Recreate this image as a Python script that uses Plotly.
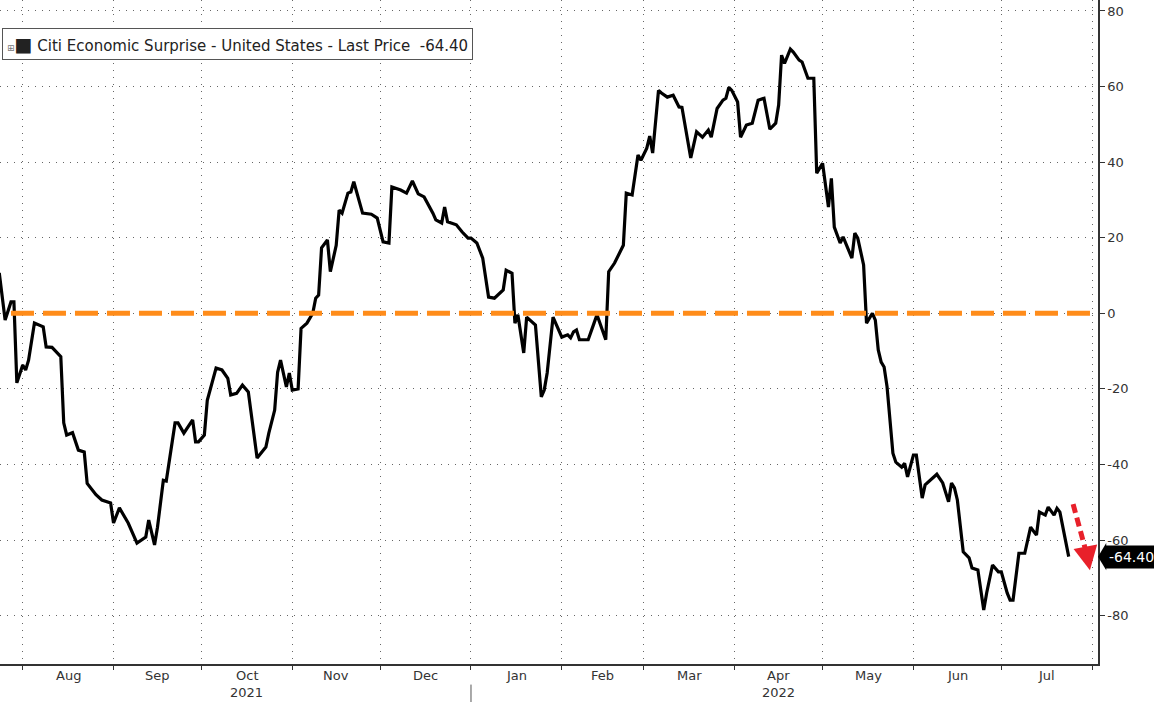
import pandas as pd
import plotly.graph_objects as go

# ---- data ----
dates = [
    "2021-07-24", "2021-07-26", "2021-07-28", "2021-07-29", "2021-07-30",
    "2021-08-01", "2021-08-02", "2021-08-03", "2021-08-05", "2021-08-08",
    "2021-08-09", "2021-08-11", "2021-08-14", "2021-08-15", "2021-08-16",
    "2021-08-18", "2021-08-20", "2021-08-22", "2021-08-23", "2021-08-26",
    "2021-08-28", "2021-08-31", "2021-09-01", "2021-09-03", "2021-09-06",
    "2021-09-09", "2021-09-12", "2021-09-13", "2021-09-15", "2021-09-16",
    "2021-09-18", "2021-09-19", "2021-09-22", "2021-09-23", "2021-09-25",
    "2021-09-28", "2021-09-29", "2021-09-30", "2021-10-02", "2021-10-03",
    "2021-10-06", "2021-10-08", "2021-10-10", "2021-10-11", "2021-10-13",
    "2021-10-15", "2021-10-17", "2021-10-19", "2021-10-20", "2021-10-23",
    "2021-10-24", "2021-10-26", "2021-10-27", "2021-10-28", "2021-10-30",
    "2021-10-31", "2021-11-01", "2021-11-03", "2021-11-04", "2021-11-06",
    "2021-11-08", "2021-11-09", "2021-11-10", "2021-11-11", "2021-11-13",
    "2021-11-14", "2021-11-16", "2021-11-17", "2021-11-18", "2021-11-20",
    "2021-11-21", "2021-11-22", "2021-11-25", "2021-11-28", "2021-11-30",
    "2021-12-02", "2021-12-04", "2021-12-05", "2021-12-08", "2021-12-10",
    "2021-12-12", "2021-12-14", "2021-12-16", "2021-12-19", "2021-12-20",
    "2021-12-22", "2021-12-23", "2021-12-24", "2021-12-27", "2021-12-29",
    "2021-12-31", "2022-01-01", "2022-01-03", "2022-01-05", "2022-01-07",
    "2022-01-09", "2022-01-11", "2022-01-12", "2022-01-13", "2022-01-15",
    "2022-01-16", "2022-01-17", "2022-01-19", "2022-01-20", "2022-01-23",
    "2022-01-25", "2022-01-26", "2022-01-27", "2022-01-29", "2022-01-31",
    "2022-02-01", "2022-02-03", "2022-02-04", "2022-02-05", "2022-02-06",
    "2022-02-07", "2022-02-10", "2022-02-12", "2022-02-13", "2022-02-16",
    "2022-02-17", "2022-02-19", "2022-02-22", "2022-02-23", "2022-02-25",
    "2022-02-27", "2022-02-28", "2022-03-02", "2022-03-03", "2022-03-04",
    "2022-03-06", "2022-03-07", "2022-03-09", "2022-03-11", "2022-03-13",
    "2022-03-14", "2022-03-16", "2022-03-17", "2022-03-19", "2022-03-21",
    "2022-03-23", "2022-03-24", "2022-03-26", "2022-03-28", "2022-03-29",
    "2022-03-30", "2022-03-31", "2022-04-02", "2022-04-03", "2022-04-05",
    "2022-04-07", "2022-04-09", "2022-04-11", "2022-04-13", "2022-04-15",
    "2022-04-16", "2022-04-17", "2022-04-18", "2022-04-20", "2022-04-21",
    "2022-04-23", "2022-04-24", "2022-04-26", "2022-04-28", "2022-04-29",
    "2022-05-01", "2022-05-03", "2022-05-04", "2022-05-05", "2022-05-07",
    "2022-05-08", "2022-05-11", "2022-05-12", "2022-05-13", "2022-05-15",
    "2022-05-16", "2022-05-18", "2022-05-19", "2022-05-20", "2022-05-21",
    "2022-05-22", "2022-05-23", "2022-05-25", "2022-05-26", "2022-05-28",
    "2022-05-29", "2022-05-30", "2022-06-01", "2022-06-02", "2022-06-04",
    "2022-06-05", "2022-06-07", "2022-06-09", "2022-06-11", "2022-06-13",
    "2022-06-14", "2022-06-15", "2022-06-16", "2022-06-18", "2022-06-20",
    "2022-06-21", "2022-06-23", "2022-06-25", "2022-06-26", "2022-06-28",
    "2022-06-30", "2022-07-01", "2022-07-03", "2022-07-04", "2022-07-05",
    "2022-07-07", "2022-07-09", "2022-07-11", "2022-07-13", "2022-07-14",
    "2022-07-16", "2022-07-17", "2022-07-19", "2022-07-20", "2022-07-21",
    "2022-07-24",
]
values = [
    10.7, -1.8, 3.0, 3.0, -18.4,
    -13.7, -15.0, -12.4, -2.6, -3.6,
    -8.9, -9.0, -11.5, -29.0, -32.2,
    -31.6, -36.2, -36.7, -45.0, -48.0,
    -49.4, -50.2, -55.5, -51.5, -55.5,
    -60.8, -59.2, -54.7, -61.3, -56.6,
    -44.2, -44.4, -29.0, -29.0, -31.7,
    -28.2, -34.0, -34.0, -32.2, -23.0,
    -14.5, -15.0, -17.2, -21.6, -21.2,
    -19.0, -20.8, -32.7, -38.3, -35.4,
    -31.7, -25.6, -15.6, -12.4, -19.5,
    -15.8, -20.3, -20.0, -4.0, -2.6,
    0.0, 4.0, 4.8, 17.3, 19.4,
    11.0, 18.0, 27.3, 26.5, 31.8,
    32.1, 34.8, 26.5, 26.2, 25.2,
    18.9, 18.6, 33.4, 32.6, 31.8,
    35.0, 31.6, 30.8, 26.5, 24.7,
    23.9, 28.1, 24.2, 23.4, 21.5,
    19.9, 19.9, 18.6, 14.6, 4.3,
    4.0, 5.6, 6.2, 11.4, 10.6,
    -2.6, -0.4, -10.5, -1.0, -3.1,
    -22.1, -20.3, -15.8, -1.0, -4.5,
    -6.3, -5.7, -6.5, -4.9, -4.4,
    -7.0, -7.0, -2.6, -0.4, -7.0,
    11.0, 13.3, 18.0, 31.8, 31.3,
    41.9, 40.5, 43.7, 46.9, 42.4,
    59.0, 58.3, 57.2, 57.7, 54.6,
    54.5, 45.8, 41.1, 48.0, 46.6,
    48.5, 46.6, 54.2, 56.4, 56.9,
    59.8, 59.0, 55.9, 46.6, 49.8,
    50.3, 56.4, 56.9, 48.7, 50.3,
    55.1, 68.3, 66.1, 69.9, 69.1,
    67.0, 66.5, 62.2, 62.2, 37.1,
    39.7, 28.1, 35.7, 22.8, 18.6,
    20.2, 14.6, 21.2, 19.9, 12.8,
    -2.6, 0.0, -1.8, -9.7, -12.9,
    -14.2, -19.4, -37.0, -39.4, -40.7,
    -39.7, -43.3, -37.5, -37.5, -48.9,
    -45.4, -43.9, -42.6, -44.9, -49.9,
    -44.9, -46.2, -49.4, -63.1, -64.7,
    -67.4, -67.9, -78.5, -74.0, -66.6,
    -68.4, -68.4, -74.0, -75.9, -75.9,
    -63.5, -63.5, -56.6, -58.7, -52.6,
    -53.4, -51.3, -53.4, -51.6, -52.6,
    -64.4,
]
last_price = -64.40
series_name = "Citi Economic Surprise - United States - Last Price"

month_labels = ["Aug", "Sep", "Oct", "Nov", "Dec", "Jan", "Feb", "Mar",
                "Apr", "May", "Jun", "Jul"]
month_starts = ["2021-08-01", "2021-09-01", "2021-10-01", "2021-11-01",
                "2021-12-01", "2022-01-01", "2022-02-01", "2022-03-01",
                "2022-04-01", "2022-05-01", "2022-06-01", "2022-07-01",
                "2022-08-01"]
year_labels = ["2021", "2022"]
year_label_months = ["Oct", "Apr"]
y_ticks = [-80, -60, -40, -20, 0, 20, 40, 60, 80]

FONT = "DejaVu Sans"
TXT = "#333333"

fig = go.Figure()
fig.add_trace(go.Scatter(
    x=pd.to_datetime(dates), y=values, mode="lines",
    line=dict(color="black", width=3.2), name=series_name,
    showlegend=False, hoverinfo="skip",
))

# zero reference line (orange dashed)
fig.add_shape(type="line", xref="paper", yref="y", x0=0.01, x1=1.0, y0=0, y1=0,
              line=dict(color="#FF8C1A", width=5, dash="23px,9px"), layer="above")

starts = pd.to_datetime(month_starts)
mids = [starts[i] + (starts[i + 1] - starts[i]) / 2 for i in range(len(month_labels))]

annotations = []
for lab, m in zip(month_labels, mids):
    annotations.append(dict(x=m, y=-0.003, xref="x", yref="paper", text=lab,
                            showarrow=False, yanchor="top",
                            font=dict(family=FONT, size=13, color=TXT)))
for ylab, mon in zip(year_labels, year_label_months):
    idx = month_labels.index(mon)
    annotations.append(dict(x=mids[idx], y=-0.029, xref="x", yref="paper", text=ylab,
                            showarrow=False, yanchor="top",
                            font=dict(family=FONT, size=13, color=TXT)))

# legend box
annotations.append(dict(
    x=0.002, y=0.958, xref="paper", yref="paper", xanchor="left", yanchor="top",
    text="<span style='font-size:9px;color:#777'>⊞</span><span style='font-size:19px'>■</span> "
         + series_name + "  " + f"{last_price:.2f}",
    showarrow=False, align="left", bgcolor="white", bordercolor="#555555",
    borderwidth=1, borderpad=4, font=dict(family=FONT, size=15, color="#222222"),
))

# last price tag
annotations.append(dict(
    x=1.0, y=last_price, xref="paper", yref="y", xanchor="left", yanchor="middle",
    xshift=7, text=f"{last_price:.2f}", showarrow=False, bgcolor="black",
    borderpad=3, font=dict(family=FONT, size=14, color="white"),
))
fig.add_shape(type="path", xref="paper", yref="y",
              path=f"M 1.0,{last_price} L 1.0075,{last_price + 3.6} L 1.0075,{last_price - 3.6} Z",
              fillcolor="black", line=dict(width=0))

# red dashed arrow
arrow_start = ("2022-07-25 12:00", -50.5)
arrow_end = ("2022-07-30 06:00", -64.0)
fig.add_shape(type="line", xref="x", yref="y",
              x0=arrow_start[0], y0=arrow_start[1], x1=arrow_end[0], y1=arrow_end[1],
              line=dict(color="#E8202A", width=5, dash="9px,5px"))
annotations.append(dict(x="2022-07-31 06:00", y=-68.0, xref="x", yref="y",
                        ax="2022-07-30 06:00", ay=-64.0, axref="x", ayref="y",
                        showarrow=True, arrowhead=2, arrowsize=1.2, arrowwidth=4,
                        arrowcolor="#E8202A", text=""))

# year separator
fig.add_shape(type="line", xref="x", yref="paper", x0="2022-01-01", x1="2022-01-01",
              y0=-0.031, y1=-0.06, line=dict(color="#555555", width=1))

fig.update_layout(
    width=1154, height=702,
    margin=dict(l=0, r=56, t=0, b=38),
    paper_bgcolor="white", plot_bgcolor="white",
    showlegend=False,
    annotations=annotations,
    xaxis=dict(
        type="date", range=["2021-07-24 06:00", "2022-08-03"],
        tickvals=starts, showticklabels=False,
        ticks="outside", ticklen=4, tickcolor="#333333",
        showgrid=True, gridcolor="#666666", gridwidth=1, griddash="1px,6px",
        showline=True, linecolor="#333333", linewidth=1.5,
        zeroline=False,
    ),
    yaxis=dict(
        side="right", range=[-92.8, 82.9], tickvals=y_ticks,
        ticktext=[str(v) for v in y_ticks],
        ticks="outside", ticklen=5, tickcolor="#333333",
        tickfont=dict(family=FONT, size=13, color=TXT),
        showgrid=True, gridcolor="#666666", gridwidth=1, griddash="1px,6px",
        showline=True, linecolor="#333333", linewidth=1.5,
        zeroline=False,
    ),
)

fig.write_html("out.html")
